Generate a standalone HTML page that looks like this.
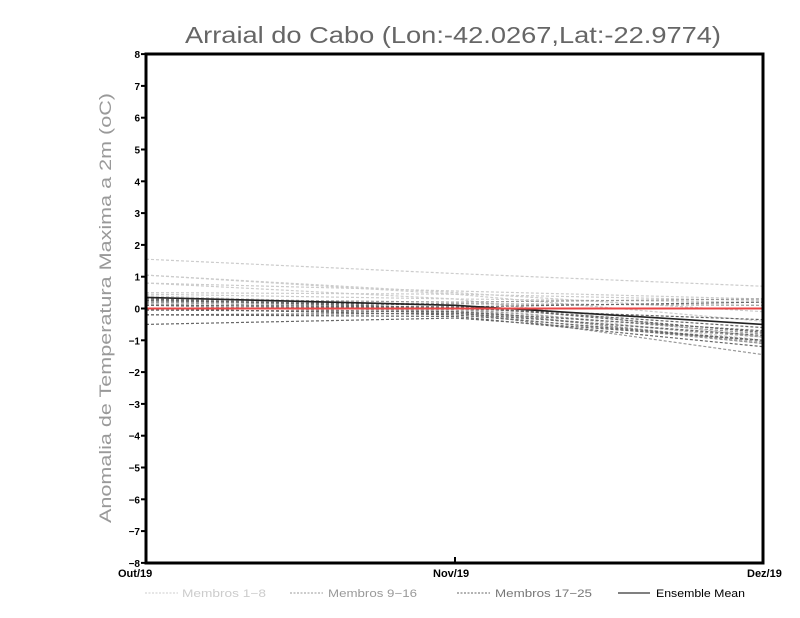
<!DOCTYPE html>
<html><head><meta charset="utf-8"><style>html,body{margin:0;padding:0;background:#fff}svg{display:block}</style></head>
<body>
<svg xmlns="http://www.w3.org/2000/svg" width="800" height="618" viewBox="0 0 800 618">
<rect width="800" height="618" fill="#fff"/>
<text x="453" y="43" text-anchor="middle" font-family="Liberation Sans, sans-serif" font-size="23" fill="#666" textLength="536" lengthAdjust="spacingAndGlyphs">Arraial do Cabo (Lon:-42.0267,Lat:-22.9774)</text>
<text transform="translate(111,308) rotate(-90)" text-anchor="middle" font-family="Liberation Sans, sans-serif" font-size="17" fill="#999" textLength="430" lengthAdjust="spacingAndGlyphs">Anomalia de Temperatura Maxima a 2m (oC)</text>
<g id="lines" fill="none" stroke-width="1.2" stroke-dasharray="3 2"></g>
<polyline points="146,297.4 455,305.3 763,324.4" fill="none" stroke="#222" stroke-width="1.6"/>
<line x1="146" y1="308.5" x2="763" y2="308.5" stroke="#e84545" stroke-width="2"/>
<rect x="146" y="54" width="617" height="509" fill="none" stroke="#000" stroke-width="3"/>
<g id="ticks" stroke="#000" stroke-width="2"></g>
<g id="ylab" font-family="Liberation Sans, sans-serif" font-size="10" font-weight="bold" text-anchor="end"></g>
<line x1="455" y1="563" x2="455" y2="557" stroke="#000" stroke-width="2"/>
<g font-family="Liberation Sans, sans-serif" font-size="11" font-weight="bold">
<text x="118" y="577">Out/19</text>
<text x="433" y="577">Nov/19</text>
<text x="747" y="577">Dez/19</text>
</g>
<g font-family="Liberation Sans, sans-serif" font-size="11">
<line x1="145" y1="593" x2="178" y2="593" stroke="#ccc" stroke-dasharray="2 1.5"/>
<text x="182" y="597" fill="#ccc" textLength="84" lengthAdjust="spacingAndGlyphs">Membros 1−8</text>
<line x1="290" y1="593" x2="323" y2="593" stroke="#999" stroke-dasharray="2 1.5"/>
<text x="328" y="597" fill="#999" textLength="89" lengthAdjust="spacingAndGlyphs">Membros 9−16</text>
<line x1="457" y1="593" x2="490" y2="593" stroke="#666" stroke-dasharray="2 1.5"/>
<text x="495" y="597" fill="#777" textLength="97" lengthAdjust="spacingAndGlyphs">Membros 17−25</text>
<line x1="618" y1="593" x2="650" y2="593" stroke="#000"/>
<text x="656" y="597" fill="#000" textLength="89" lengthAdjust="spacingAndGlyphs">Ensemble Mean</text>
</g>
<script>
var d=[[1.55,1.1,0.7],[1.05,0.5,-0.1],[1.05,0.45,-0.4],[0.8,0.55,0.3],[0.8,0.3,-0.9],[0.5,0.45,0.25],[0.45,0.3,0.2],[0.4,0.1,-1.0],[0.35,0.0,-1.1],[0.3,0.2,0.3],[0.3,-0.1,-1.45],[0.25,0.0,-0.8],[0.2,-0.05,-1.05],[0.2,0.15,0.1],[0.15,-0.1,-0.9],[0.1,-0.15,-1.1],[0.1,0.05,-0.6],[0.0,-0.2,-1.0],[0.0,0.05,0.2],[-0.05,-0.1,-0.7],[-0.2,-0.15,-0.85],[-0.2,-0.25,-1.2],[-0.5,-0.3,-1.0],[0.3,0.0,-0.35],[0.25,0.1,-0.75]];
var cols=['#ccc','#999','#666'];var ns='http://www.w3.org/2000/svg';
function y(v){return 308.5-v*31.8;}
var g=document.getElementById('lines');
d.forEach(function(r,i){var p=document.createElementNS(ns,'polyline');
p.setAttribute('points','146,'+y(r[0])+' 455,'+y(r[1])+' 763,'+y(r[2]));
p.setAttribute('stroke',cols[i<8?0:i<16?1:2]);g.appendChild(p);});
var t=document.getElementById('ticks'),l=document.getElementById('ylab');
for(var v=-8;v<=8;v++){var yy=y(v);var ln=document.createElementNS(ns,'line');
ln.setAttribute('x1',141);ln.setAttribute('x2',146);ln.setAttribute('y1',yy);ln.setAttribute('y2',yy);t.appendChild(ln);
var tx=document.createElementNS(ns,'text');tx.setAttribute('x',140);tx.setAttribute('y',yy+4);
tx.textContent=(v<0?'\u2212':'')+Math.abs(v);l.appendChild(tx);}
</script>
</svg>
</body></html>
